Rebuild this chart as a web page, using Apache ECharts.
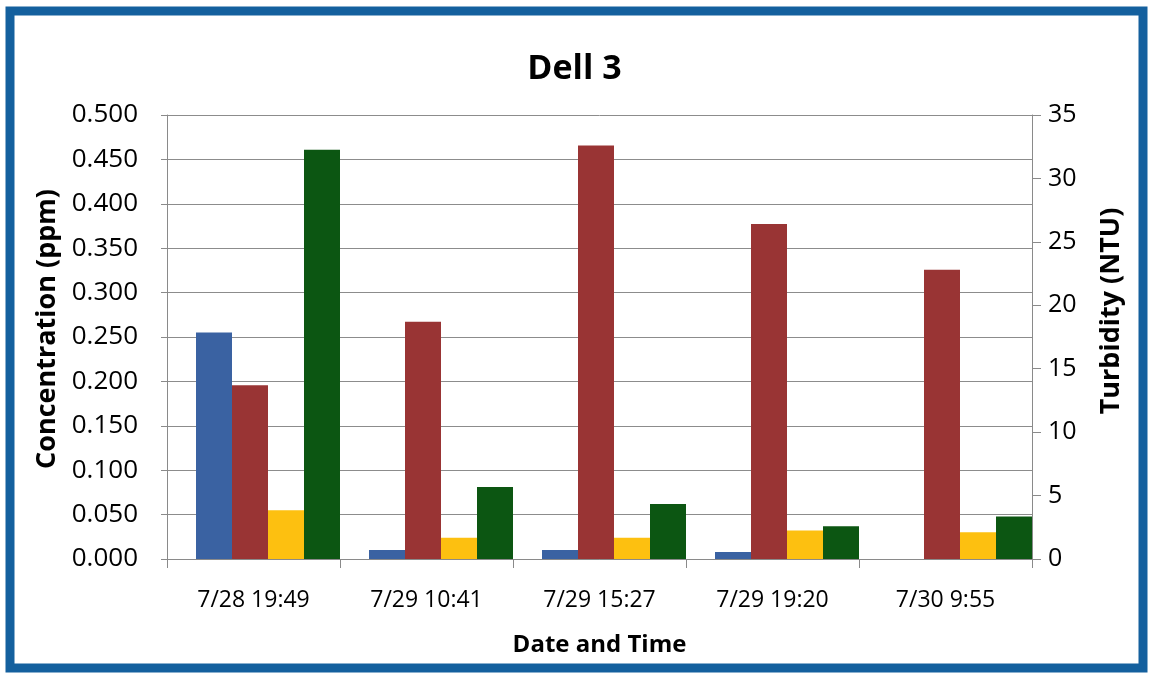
<!DOCTYPE html>
<html>
<head>
<meta charset="utf-8">
<title>Dell 3</title>
<script src="https://cdn.jsdelivr.net/npm/echarts@6/dist/echarts.min.js"></script>
<style>
  html, body { margin: 0; padding: 0; background: #ffffff; }
  #chart { width: 1149px; height: 676px; }
</style>
</head>
<body>
<div id="chart"></div>
<script>
// Sampling times (category axis)
const categories = ['7/28 19:49', '7/29 10:41', '7/29 15:27', '7/29 19:20', '7/30 9:55'];

// Concentrations in ppm (left axis)
const blueConc = [0.255, 0.010, 0.010, 0.008, 0];
const yellowConc = [0.055, 0.024, 0.024, 0.032, 0.030];
const greenConc = [0.461, 0.081, 0.062, 0.037, 0.048];

// Turbidity in NTU (right axis)
const turbidity = [13.7, 18.7, 32.6, 26.4, 22.8];

// Empty leading column in every category (no values recorded)
const emptySlot = [null, null, null, null, null];

// Axis tick values
const concTicks = { min: 0, max: 0.5, interval: 0.05 };
const ntuTicks = { min: 0, max: 35, interval: 5 };

const FONT = '"Open Sans", "Liberation Sans", sans-serif';
const AXIS_GRAY = '#8a8a8a';

const chart = echarts.init(document.getElementById('chart'), null, { renderer: 'canvas' });

const barBase = { type: 'bar', barGap: 0, barCategoryGap: 0, barWidth: 36, animation: false };

chart.setOption({
  backgroundColor: '#ffffff',
  animation: false,
  title: {
    text: 'Dell 3',
    left: 'center',
    top: 47,
    textStyle: { fontFamily: FONT, fontSize: 34, fontWeight: 'bold', color: '#000' }
  },
  graphic: [{
    type: 'rect',
    shape: { x: 10, y: 11, width: 1133, height: 657 },
    style: { fill: 'none', stroke: '#14609e', lineWidth: 9 },
    silent: true,
    z: 100
  }],
  grid: { left: 167, right: 117, top: 115, bottom: 117 },
  xAxis: {
    type: 'category',
    data: categories,
    boundaryGap: true,
    name: 'Date and Time',
    nameLocation: 'middle',
    nameGap: 74,
    nameTextStyle: { fontFamily: FONT, fontSize: 24, fontWeight: 'bold', color: '#000' },
    axisLine: { lineStyle: { color: AXIS_GRAY, width: 1 } },
    axisTick: { show: true, length: 9, lineStyle: { color: AXIS_GRAY } },
    axisLabel: { fontFamily: FONT, fontSize: 23, color: '#000', margin: 30 },
    splitLine: { show: false }
  },
  yAxis: [{
    type: 'value',
    min: concTicks.min,
    max: concTicks.max,
    interval: concTicks.interval,
    position: 'left',
    name: 'Concentration (ppm)',
    nameLocation: 'middle',
    nameGap: 106,
    nameTextStyle: { fontFamily: FONT, fontSize: 27, fontWeight: 'bold', color: '#000', padding: [0, 0, 0, 16] },
    axisLine: { show: true, lineStyle: { color: AXIS_GRAY, width: 1 } },
    axisTick: { show: true, length: 6, lineStyle: { color: AXIS_GRAY } },
    axisLabel: {
      fontFamily: FONT, fontSize: 26, color: '#000', margin: 29,
      formatter: v => v.toFixed(3)
    },
    splitLine: { show: true, lineStyle: { color: '#8c8c8c', width: 1 } }
  }, {
    type: 'value',
    min: ntuTicks.min,
    max: ntuTicks.max,
    interval: ntuTicks.interval,
    position: 'right',
    name: 'Turbidity (NTU)',
    nameLocation: 'middle',
    nameGap: 66,
    nameTextStyle: { fontFamily: FONT, fontSize: 27, fontWeight: 'bold', color: '#000', padding: [0, 0, 0, 52] },
    axisLine: { show: true, lineStyle: { color: AXIS_GRAY, width: 1 } },
    axisTick: { show: true, length: 9, lineStyle: { color: AXIS_GRAY } },
    axisLabel: { fontFamily: FONT, fontSize: 25, color: '#000', margin: 16 },
    splitLine: { show: false }
  }],
  series: [
    Object.assign({}, barBase, { name: 'Empty', data: emptySlot, barWidth: 29, yAxisIndex: 0 }),
    Object.assign({}, barBase, { name: 'Blue', data: blueConc, yAxisIndex: 0, itemStyle: { color: '#3a62a2' } }),
    Object.assign({}, barBase, { name: 'Turbidity', data: turbidity, yAxisIndex: 1, itemStyle: { color: '#993434' } }),
    Object.assign({}, barBase, { name: 'Yellow', data: yellowConc, yAxisIndex: 0, itemStyle: { color: '#fdc010' } }),
    Object.assign({}, barBase, { name: 'Green', data: greenConc, yAxisIndex: 0, itemStyle: { color: '#0c5612' } })
  ]
});
</script>
</body>
</html>
